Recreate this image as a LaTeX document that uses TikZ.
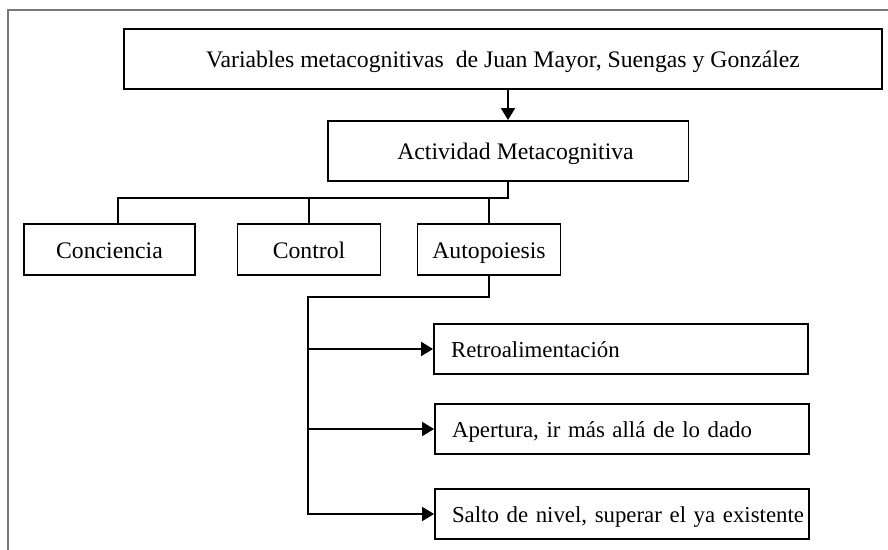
\documentclass[tikz,border=0pt]{standalone}
\usepackage{fontspec}
\setmainfont{Liberation Serif}
\usetikzlibrary{arrows.meta,positioning}
\usepackage{xcolor}
\definecolor{framegray}{RGB}{120,120,120}
\newcommand{\tallstrut}{\rule[-.45ex]{0pt}{2.6ex}}

\begin{document}
\begin{tikzpicture}[x=0.02cm,y=-0.02cm,->,>={Triangle[length=0.24cm,width=0.28cm]},line width=1.1pt,
  font=\fontsize{13.5}{16}\selectfont]
  \tikzstyle{box}=[draw=black,line width=1.1pt,inner sep=0pt,minimum height=1.2cm,
    text height=2.6ex,text depth=.45ex]
  \tikzstyle{leaf}=[draw=black,line width=1.1pt,inner xsep=0.34cm,inner ysep=0pt,align=left,
    text width=6.8cm,minimum height=1.0cm,font=\fontsize{13}{16}\selectfont]

  \useasboundingbox (0,0) rectangle (888,550);
  \draw[-,framegray,line width=1pt] (8,550) -- (8,10) -- (888,10);

  \node[box,minimum width=15.16cm] (V) at (503,59) {Variables metacognitivas\ \ de Juan Mayor, Suengas y González};
  \node[box,minimum width=7.22cm]  (A) at (508,151) {\hspace{0.3cm}Actividad Metacognitiva};
  \node[box,minimum width=3.42cm,minimum height=1.02cm] (Con) at (109.5,249.5) {Conciencia};
  \node[box,minimum width=2.86cm,minimum height=1.02cm] (Ctl) at (309,249.5) {Control};
  \node[box,minimum width=2.86cm,minimum height=1.02cm] (Aut) at (489,249.5) {Autopoiesis};
  \node[leaf] (R)  at (621,349) {\mbox{\tallstrut Retroalimentación}};
  \node[leaf] (Ap) at (622,429) {\mbox{\tallstrut Apertura, ir más allá de lo dado}};
  \node[leaf] (S)  at (622,514) {\mbox{\tallstrut Salto de nivel, superar el ya existente}};

  \coordinate (bus) at (508,198);
  \coordinate (split) at (308,297);

  \draw (V.south -| A) -- (A.north);
  \draw[-] (A.south) -- (bus) -| ([xshift=0.17cm]Con.north);
  \draw[-] (Ctl.north) -- (Ctl.north |- bus);
  \draw[-] (Aut.north) -- (Aut.north |- bus);
  \draw (Aut.south) |- (split) |- (S.west);
  \draw (split |- R.west) -- (R.west);
  \draw (split |- Ap.west) -- (Ap.west);
\end{tikzpicture}
\end{document}
